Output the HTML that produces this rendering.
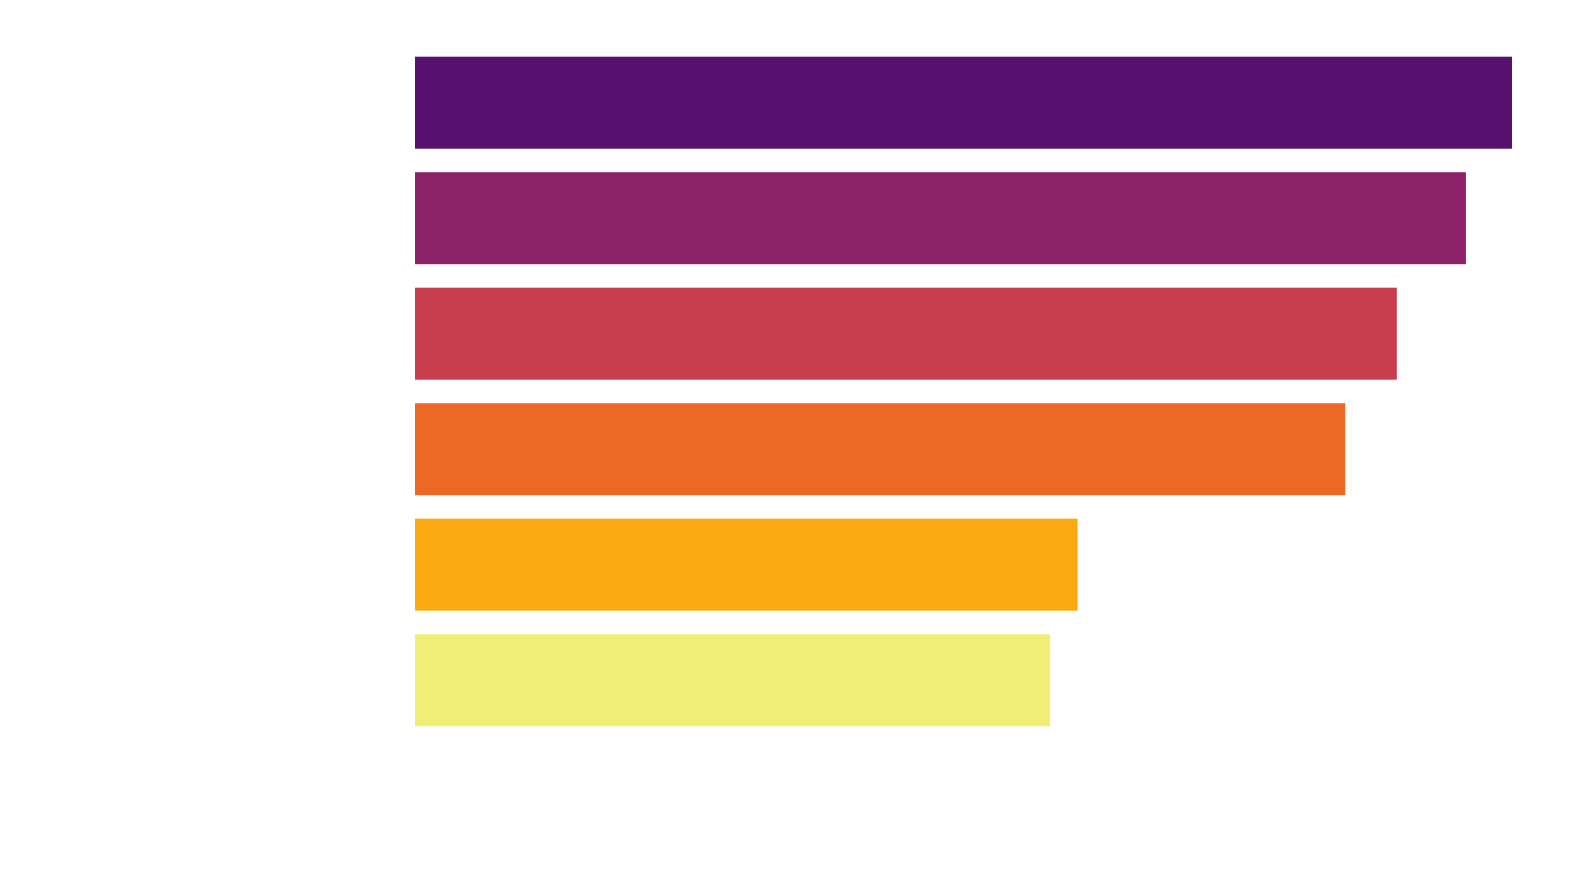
<!DOCTYPE html>
<html>
<head>
<meta charset="utf-8">
<style>
  html, body { margin: 0; padding: 0; background: #ffffff; }
  svg { display: block; }
</style>
</head>
<body>
<svg id="chart" width="1590" height="886" viewBox="0 0 1590 886" xmlns="http://www.w3.org/2000/svg">
  <rect x="0" y="0" width="1590" height="886" fill="#ffffff"/>
  <g id="bars"></g>
</svg>
<script>
const categories = ["A", "B", "C", "D", "E", "F"];
const values = [100, 95.8, 89.5, 84.8, 60.4, 57.9];
const colors = ["#57106e", "#8c2369", "#c83e4f", "#ec6824", "#fbaa12", "#f1ee78"];

const xMin = 0, xMax = 100;
const plotLeft = 415, plotRight = 1512;
const plotTop = 56.7, step = 115.5, barH = 92;

function xScale(v) { return plotLeft + (v - xMin) / (xMax - xMin) * (plotRight - plotLeft); }
function yScale(i) { return plotTop + i * step; }

const g = document.getElementById('bars');
const ns = 'http://www.w3.org/2000/svg';
categories.forEach((c, i) => {
  const r = document.createElementNS(ns, 'rect');
  r.setAttribute('x', xScale(0));
  r.setAttribute('y', yScale(i));
  r.setAttribute('width', xScale(values[i]) - xScale(0));
  r.setAttribute('height', barH);
  r.setAttribute('fill', colors[i]);
  
  
  g.appendChild(r);
});
</script>
</body>
</html>
